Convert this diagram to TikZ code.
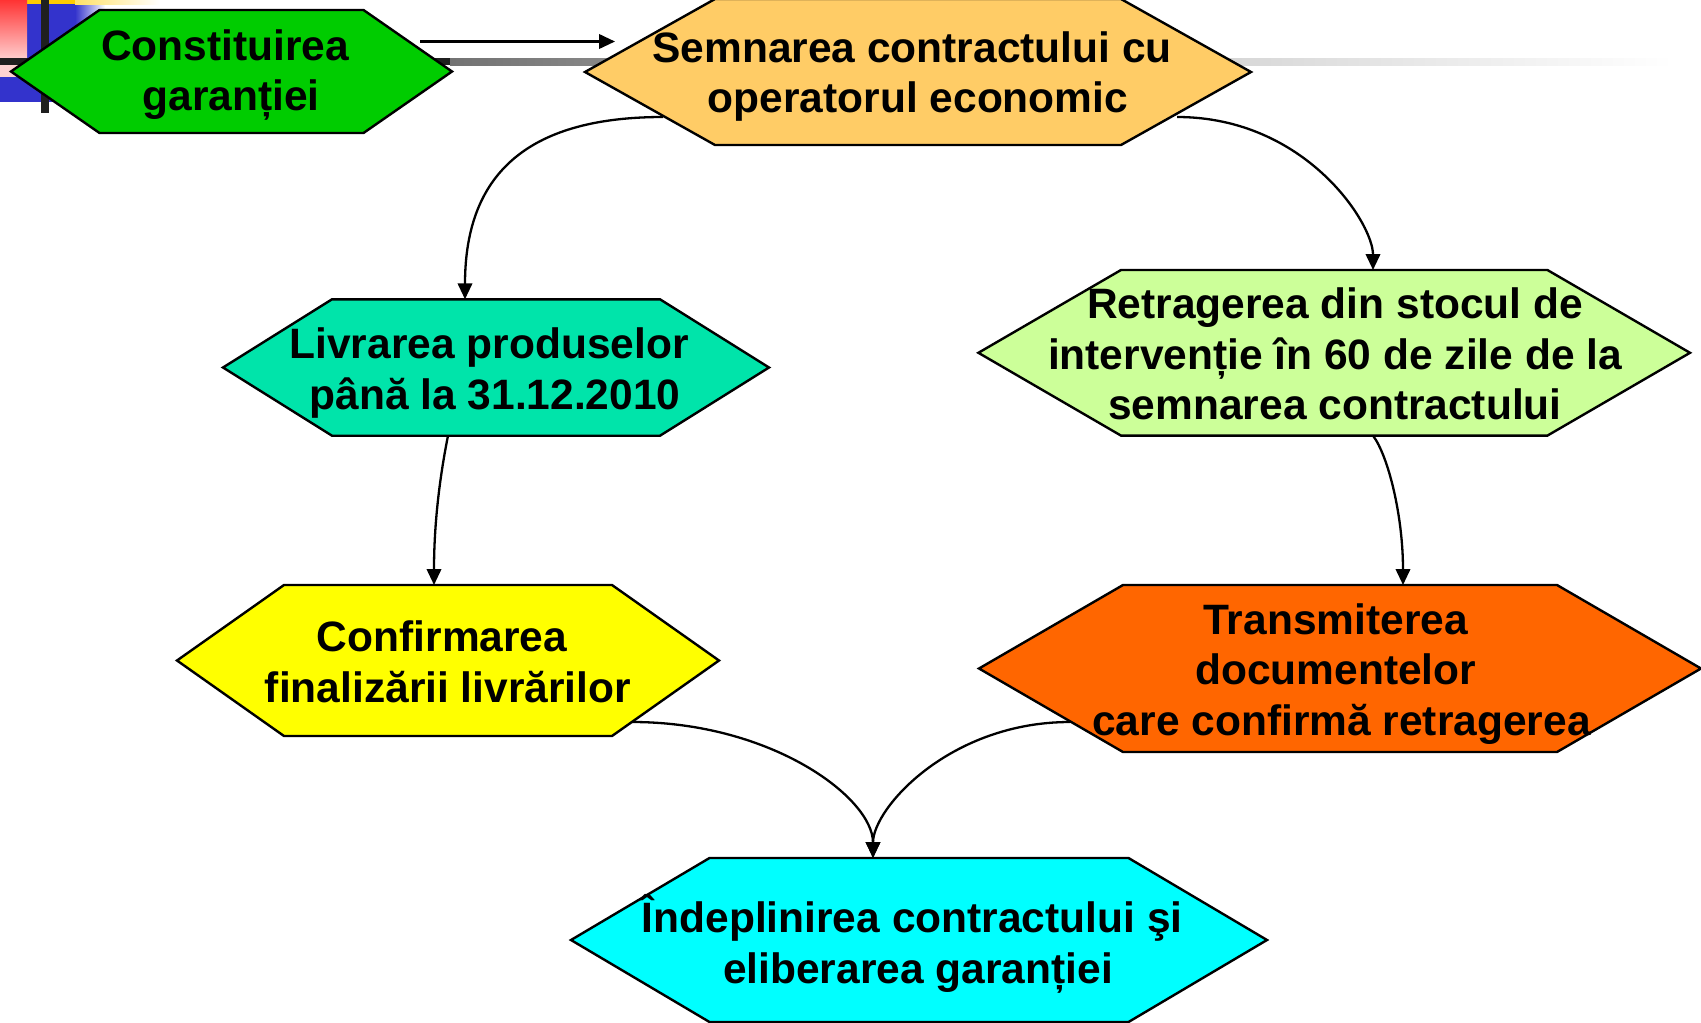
\documentclass[tikz,border=0pt]{standalone}
\usepackage{fontspec}
\setmainfont{Liberation Sans}
\usetikzlibrary{arrows.meta}
\definecolor{cGreen}{HTML}{00CC00}
\definecolor{cSand}{HTML}{FFCC66}
\definecolor{cTeal}{HTML}{00E4AA}
\definecolor{cLime}{HTML}{CCFF99}
\definecolor{cYellow}{HTML}{FFFF00}
\definecolor{cOrange}{HTML}{FF6600}
\definecolor{cCyan}{HTML}{00FFFF}
\definecolor{cBlue}{HTML}{3333CC}
\definecolor{cRed}{HTML}{FF3333}
\definecolor{cGold}{HTML}{FFCC00}
% trailing space kept at the end of a wrapped line
\newcommand\tsp{\kern0.278em}
% name, cx, cy (downwards), half width to tips, half width of flat edges, half height, fill
\newcommand\hexbox[7]{%
  \draw[hexline, fill=#7] ({#2-#4},{-#3}) -- ({#2-#5},{-#3+#6}) -- ({#2+#5},{-#3+#6})
     -- ({#2+#4},{-#3}) -- ({#2+#5},{-#3-#6}) -- ({#2-#5},{-#3-#6}) -- cycle;
  \node[hexcore, minimum width={2*#5}, minimum height={2*#6}] (#1) at (#2,{-#3}) {};
}
\begin{document}
\begin{tikzpicture}[x=1pt,y=1pt,
  hexline/.style={draw=black, line width=2.4pt, line join=miter},
  hexcore/.style={shape=rectangle, inner sep=0pt, outer sep=0pt, draw=none},
  hextext/.style={font=\fontsize{42.5}{50.5}\selectfont\bfseries, align=center, inner sep=0pt, text=black},
  conn/.style={draw=black, line width=2.3pt, -{Triangle[length=16pt,width=14.5pt]}},
]
\fill[white] (0,0) rectangle (1701,-1023);
\useasboundingbox (0,0) rectangle (1701,-1023);

% template decoration (top left)
\fill[cBlue] (27,0) rectangle (75,-102);
\fill[cBlue] (0,-77) rectangle (27,-102);
\shade[left color=cBlue, right color=white] (75,-4) rectangle (105,-102);
\fill[cGold] (27,0) rectangle (75,-4);
\shade[left color=cGold!60, right color=white] (75,0) rectangle (160,-4);
\shade[top color=cRed, bottom color=cRed!25] (0,0) rectangle (27,-58);
\fill[cRed!22] (0,-65) rectangle (27,-77);
\fill[black!88] (0,-58) rectangle (450,-65);
\shade[left color=black!55, right color=black!15] (450,-58) rectangle (1251,-65);
\shade[left color=black!15, right color=white] (1251,-58) rectangle (1673,-65);
\fill[black!88] (41,0) rectangle (49,-113);

% hexagons
\hexbox{constit}{231.5}{71.5}{220.5}{132}{61.5}{cGreen}
\hexbox{semn}{918}{72}{333}{203}{73}{cSand}
\hexbox{livr}{496}{367.5}{273}{164}{68.2}{cTeal}
\hexbox{retr}{1334.2}{352.8}{355.8}{213.2}{82.8}{cLime}
\hexbox{conf}{448}{660.5}{271}{164}{75.5}{cYellow}
\hexbox{trans}{1340}{668.5}{361}{217}{83.5}{cOrange}
\hexbox{indep}{919}{940}{348}{209.5}{82}{cCyan}

% texts
\node[hextext] (constit-t) at (231,-75) {Constituirea\tsp\\garanției};
\node[hextext] (semn-t) at (918,-76.5) {Semnarea contractului cu\tsp\\operatorul economic};
\node[hextext] (livr-t) at (495,-373) {Livrarea produselor\tsp\\până la 31.12.2010};
\node[hextext] (retr-t) at (1335,-354) {Retragerea din stocul de\\intervenție în 60 de zile de la\\semnarea contractului};
\node[hextext] (conf-t) at (448,-662) {Confirmarea\tsp\\finalizării livrărilor};
\node[hextext] (trans-t) at (1341.5,-674) {Transmiterea\tsp\\documentelor\tsp\\care confirmă retragerea};
\node[hextext] (indep-t) at (918,-944) {Îndeplinirea contractului şi\tsp\\eliberarea garanției};

% connectors
\draw[conn] ([shift={(56.5,30)}]constit.east) -- ([shift={(-100,30.5)}]semn.west);
\draw[conn] ([shift={(-52,28)}]semn.south west) .. controls +(-130,0) and +(0,130) .. ([xshift=-31pt]livr.north);
\draw[conn] ([shift={(56,28)}]semn.south east) .. controls +(128,0) and +(0,47) .. ([xshift=38.8pt]retr.north);
\draw[conn] ([xshift=-48pt]livr.south) .. controls +(-6,-30) and +(0,70) .. ([xshift=-14pt]conf.north);
\draw[conn] ([xshift=38.8pt]retr.south) .. controls +(15,-20) and +(0,70) .. ([xshift=63pt]trans.north);
\draw[conn] ([shift={(20,14)}]conf.south east) .. controls +(140,0) and +(0,60) .. ([xshift=-46pt]indep.north);
\draw[conn] ([shift={(-53,30)}]trans.south west) .. controls +(-120,0) and +(0,50) .. ([xshift=-46pt]indep.north);
\end{tikzpicture}
\end{document}
